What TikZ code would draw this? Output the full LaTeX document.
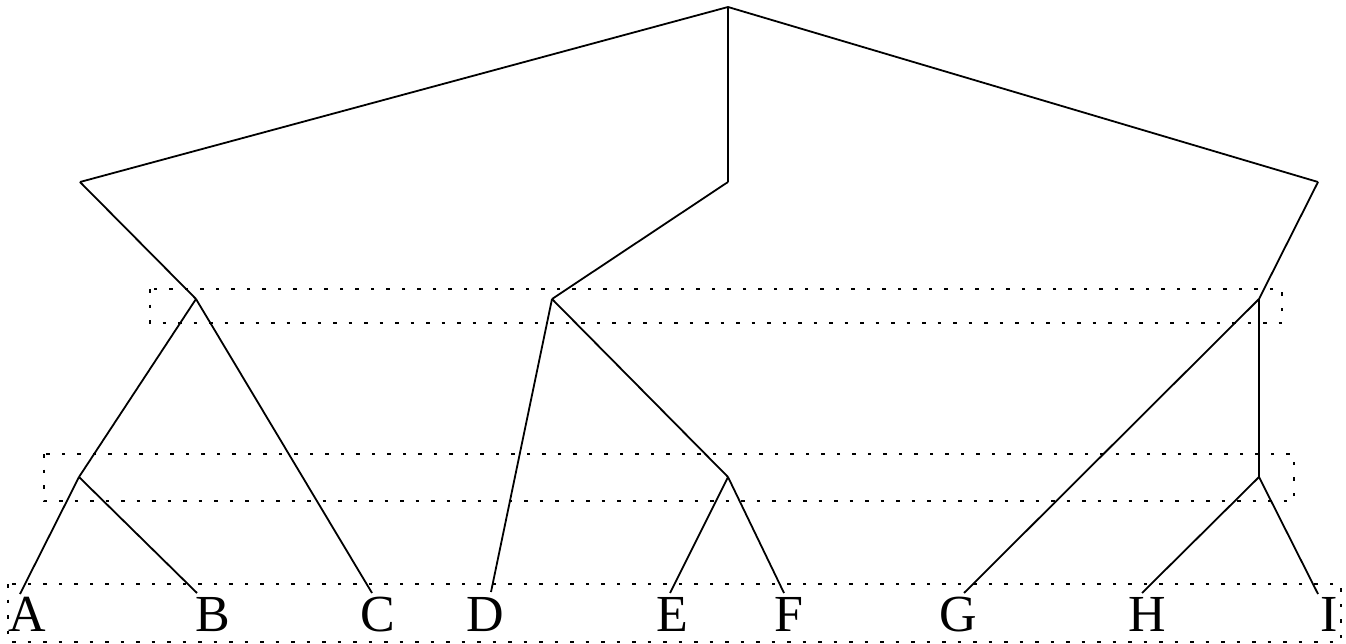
\documentclass[tikz,border=0pt]{standalone}
\usepackage{fontspec}
\setmainfont{Liberation Serif}
\begin{document}
\begin{tikzpicture}[x=1pt,y=-1pt,
  edge/.style={line width=1.8pt,line join=miter},
  levelbox/.style={line width=2pt,dash pattern=on 3.5pt off 12pt},
  leaf/.style={anchor=base,inner sep=0pt,font=\fontsize{52}{60}\selectfont}]
\useasboundingbox (0,0) rectangle (1346,644);
% internal nodes of the tree
\coordinate (r)  at (728,7);
\coordinate (n1) at (80,182);
\coordinate (n2) at (728,182);
\coordinate (n3) at (1318,182);
\coordinate (n4) at (196,299);
\coordinate (n5) at (552,299);
\coordinate (n6) at (1259,299);
\coordinate (n7) at (79,477);
\coordinate (n8) at (728,477);
\coordinate (n9) at (1259,477);
% leaf ends
\coordinate (la) at (20,594);
\coordinate (lb) at (197,593);
\coordinate (lc) at (372,593);
\coordinate (ld) at (491,592);
\coordinate (le) at (670,593);
\coordinate (lf) at (784,593);
\coordinate (lg) at (964,593);
\coordinate (lh) at (1142,593);
\coordinate (li) at (1318,594);
% leaf labels
\node[leaf] (A) at (27,631) {A};
\node[leaf] (B) at (213,631) {B};
\node[leaf] (C) at (378,631) {C};
\node[leaf] (D) at (485,631) {D};
\node[leaf] (E) at (672,631) {E};
\node[leaf] (F) at (789,631) {F};
\node[leaf] (G) at (958,631) {G};
\node[leaf] (H) at (1147,631) {H};
\node[leaf] (I) at (1329,631) {I};
% dotted level boxes
\draw[levelbox] (150,289) rectangle (1282,323);
\draw[levelbox] (44,454) rectangle (1294,501);
\draw[levelbox] (8,584) rectangle (1341,642);
% edges
\draw[edge] (r) -- (n1);
\draw[edge] (r) -- (n2);
\draw[edge] (r) -- (n3);
\draw[edge] (n1) -- (n4);
\draw[edge] (n2) -- (n5);
\draw[edge] (n3) -- (n6);
\draw[edge] (n4) -- (n7);
\draw[edge] (n4) -- (lc);
\draw[edge] (n5) -- (ld);
\draw[edge] (n5) -- (n8);
\draw[edge] (n6) -- (lg);
\draw[edge] (n6) -- (n9);
\draw[edge] (n7) -- (la);
\draw[edge] (n7) -- (lb);
\draw[edge] (n8) -- (le);
\draw[edge] (n8) -- (lf);
\draw[edge] (n9) -- (lh);
\draw[edge] (n9) -- (li);
\end{tikzpicture}
\end{document}
